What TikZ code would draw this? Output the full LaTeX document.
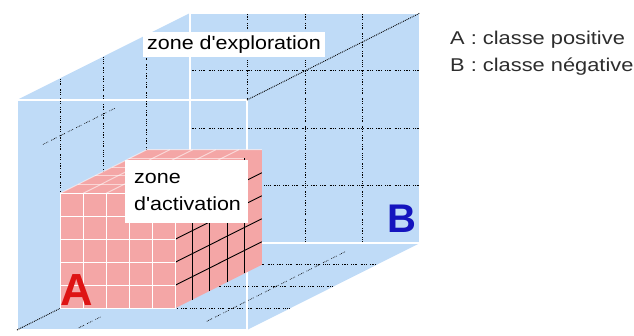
\documentclass[tikz,border=0pt]{standalone}
\usepackage{fontspec}
\newfontfamily\labelfont[FakeStretch=1.13]{Liberation Sans}
\newfontfamily\legendfont[FakeStretch=1.18]{Liberation Sans}
\newfontfamily\letterfont{Liberation Sans}
\definecolor{cubeblue}{RGB}{191,219,247}
\definecolor{cubepink}{RGB}{244,166,166}
\definecolor{letterred}{RGB}{222,20,20}
\definecolor{letterblue}{RGB}{20,20,190}
\definecolor{legendgray}{RGB}{45,45,45}

\begin{document}
\begin{tikzpicture}[
  gridline/.style={line width=0.7pt, dash pattern=on 0.7pt off 1pt on 0.7pt off 1pt on 0.7pt off 1pt on 0.7pt off 3.5pt},
  edgeline/.style={white, line width=1.3pt},
  axisline/.style={line width=0.9pt, densely dotted},
  facegrid/.style={white, line width=1.3pt},
  topgrid/.style={white, line width=1pt, opacity=0.55},
  sidegrid/.style={black, line width=0.9pt},
  labelbox/.style={fill=white, inner sep=0pt},
  labeltext/.style={inner sep=0pt, anchor=base west, font=\labelfont\fontsize{19}{27}\selectfont},
  legend/.style={inner sep=0pt, anchor=base west, text=legendgray, font=\legendfont\fontsize{18.5}{27}\selectfont},
  letter/.style={inner sep=0pt, anchor=base west, font=\letterfont\bfseries\fontsize{#1}{#1}\selectfont}
]
\useasboundingbox (0pt,0pt) rectangle (634pt,335pt);

\begin{scope}[shift={(17pt,5pt)}, x={(57.5pt,0pt)}, y={(0pt,57.5pt)}, z={(43.25pt,21.75pt)}]
  % exploration cube
  \coordinate (frontbl) at (0,0,0);
  \coordinate (frontbr) at (4,0,0);
  \coordinate (fronttr) at (4,4,0);
  \coordinate (fronttl) at (0,4,0);
  \coordinate (backbl) at (0,0,4);
  \coordinate (backbr) at (4,0,4);
  \coordinate (backtr) at (4,4,4);
  \coordinate (backtl) at (0,4,4);
  \fill[cubeblue] (frontbl) -- (fronttl) -- (backtl) -- (backtr) -- (backbr) -- (frontbr) -- cycle;

  \foreach \k in {1,2,3} {
    \draw[gridline] (\k,0,4) -- (\k,4,4);
    \draw[gridline] (0,\k,4) -- (4,\k,4);
    \draw[gridline] (0,0,\k) -- (0,4,\k);
    \draw[gridline] (0,0,\k) -- (4,0,\k);
  }
  \draw[gridline] (0,3,0.6) -- (0,3,2.3);
  \draw[gridline] (1,0,0.1) -- (1,0,0.6);
  \draw[gridline] (3,0,0.4) -- (3,0,3.6);
  \draw[edgeline] (backbl) -- (backbr) -- (backtr) -- (backtl) -- cycle;
  \draw[edgeline] (frontbl) -- (frontbr) -- (fronttr) -- (fronttl) -- cycle;
  \draw[axisline] (frontbl) -- (backbl);
  \draw[axisline] (fronttr) -- (backtr);

  % activation cube
  \coordinate (actbl) at (0,0,1);
  \coordinate (actbr) at (2,0,1);
  \coordinate (acttr) at (2,2,1);
  \coordinate (acttl) at (0,2,1);
  \coordinate (actbbr) at (2,0,3);
  \coordinate (actbtr) at (2,2,3);
  \coordinate (actbtl) at (0,2,3);
  \fill[cubepink] (actbl) -- (actbr) -- (actbbr) -- (actbtr) -- (actbtl) -- (acttl) -- cycle;
  \foreach \t in {0.4,0.8,1.2,1.6} {
    \draw[topgrid] (\t,2,1) -- (\t,2,3);
    \draw[topgrid] (0,2,1+\t) -- (2,2,1+\t);
    \draw[sidegrid] (2,0,1+\t) -- (2,2,1+\t);
    \draw[sidegrid] (2,\t,1) -- (2,\t,3);
    \draw[facegrid] (\t,0,1) -- (\t,2,1);
    \draw[facegrid] (0,\t,1) -- (2,\t,1);
  }
  \draw[topgrid] (acttl) -- (actbtl) -- (actbtr);
  \draw[facegrid] (actbl) -- (actbr) -- (acttr) -- (acttl) -- cycle;
\end{scope}

% labels
\node[labelbox, minimum width=182pt, minimum height=25pt, font=\labelfont\fontsize{19}{27}\selectfont] (explo) at (234pt,290.5pt) {zone d'exploration};
\node[labelbox, minimum width=123pt, minimum height=63pt] (actbox) at (186.5pt,143.5pt) {};
\node[labeltext] (actzone) at (134pt,152pt) {zone};
\node[labeltext] (actname) at (134pt,125pt) {d'activation};

\node[letter=45, text=letterred] (letA) at (60pt,30pt) {A};
\node[letter=40, text=letterblue] (letB) at (387pt,103pt) {B};

\node[legend] (legA) at (450pt,290pt) {A : classe positive};
\node[legend] (legB) at (450pt,263pt) {B : classe négative};
\end{tikzpicture}
\end{document}
